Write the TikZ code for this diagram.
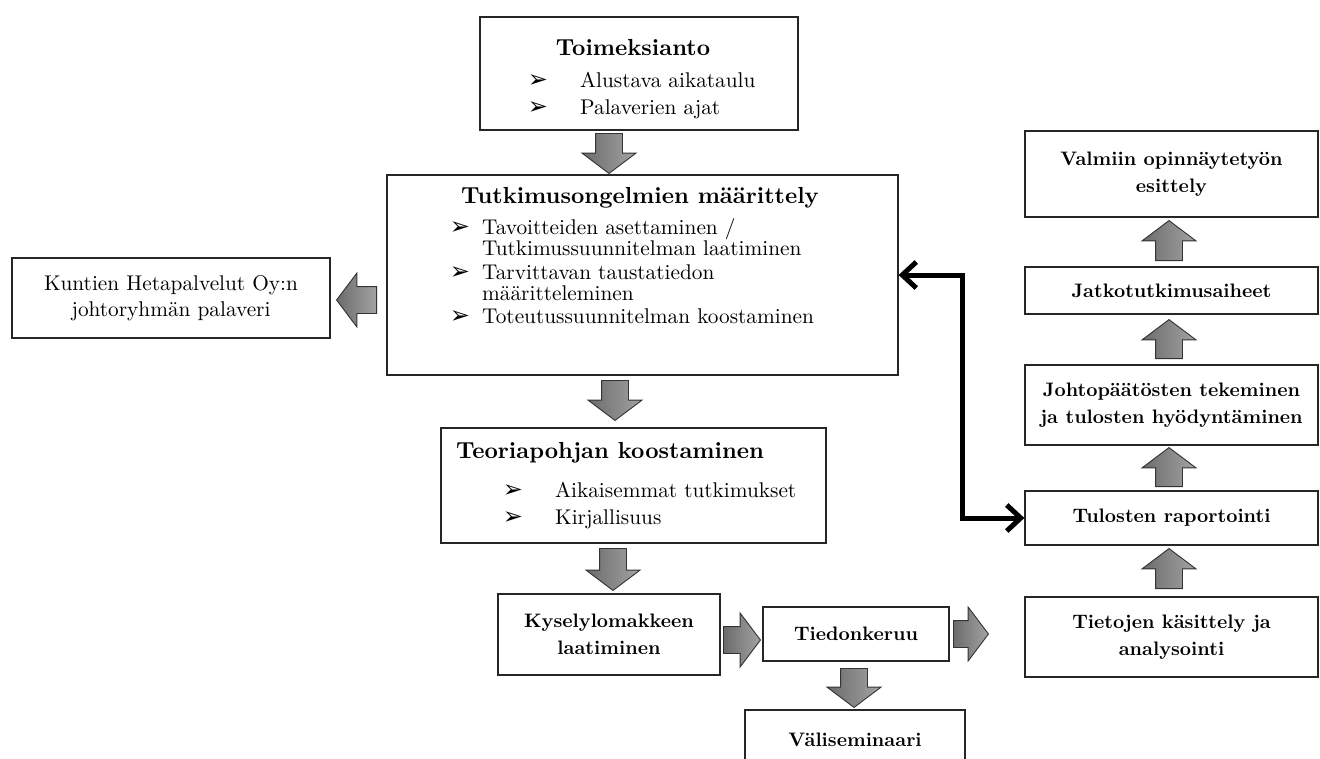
\documentclass[tikz,border=0pt]{standalone}
\usepackage{fontspec}
\setmainfont{lmroman10-regular}[Extension=.otf, BoldFont=lmroman10-bold, ItalicFont=lmroman10-italic]
\newfontfamily\dejavu{DejaVu Sans}
\usetikzlibrary{shapes.arrows,arrows.meta}
\begin{document}
\begin{tikzpicture}[x=1pt,y=-1pt,
  box/.style={draw=black!85,line width=1.2pt,fill=white,inner sep=0pt,align=center},
  ttl/.style={font=\fontsize{23.2}{26}\selectfont\bfseries,inner sep=0pt},
  itm/.style={font=\fontsize{21.3}{24}\selectfont,inner sep=0pt},
  lbl/.style={font=\fontsize{19.5}{27}\selectfont\bfseries},
  reg/.style={font=\fontsize{21.3}{26}\selectfont},
  bulsty/.style={font=\dejavu\fontsize{24}{24}\selectfont,inner sep=0pt},
  barrow/.style={single arrow, draw=black!80, line width=0.9pt,
    left color=black!58, right color=black!36,
    minimum width=53pt, single arrow head extend=13.5pt,
    single arrow tip angle=106, single arrow head indent=0pt,
    inner xsep=0pt, inner ysep=13pt, minimum height=#1, anchor=tail},
  vbarrow/.style={barrow=#1, inner xsep=13pt, inner ysep=0pt},
  link/.style={line width=5pt,{Straight Barb[length=14pt,width=26pt]}-{Straight Barb[length=14pt,width=26pt]}}
]
\fill[white] (0,0) rectangle (1320,758);
\useasboundingbox (0,0) rectangle (1320,758);

% boxes
\node[box,minimum width=318pt,minimum height=113pt] (toim) at (639,73.5) {};
\node[box,minimum width=511pt,minimum height=200pt] (tutk) at (642.5,275) {};
\node[box,reg,minimum width=318pt,minimum height=80pt] (kunt) at (171,298) {Kuntien Hetapalvelut Oy:n\\johtoryhmän palaveri};
\node[box,minimum width=385pt,minimum height=115pt] (teor) at (633.5,485.5) {};
\node[box,lbl,minimum width=222pt,minimum height=81pt] (kys) at (609,634.5) {Kyselylomakkeen\\laatiminen};
\node[box,lbl,minimum width=186pt,minimum height=54pt] (tied) at (856,634) {Tiedonkeruu};
\node[box,lbl,minimum width=293pt,minimum height=80pt] (tiet) at (1171.5,637) {Tietojen käsittely ja\\analysointi};
\node[box,lbl,minimum width=293pt,minimum height=86pt] (valm) at (1171.5,174) {Valmiin opinnäytetyön\\esittely};
\node[box,lbl,minimum width=293pt,minimum height=47pt] (jatko) at (1171.5,290.5) {Jatkotutkimusaiheet};
\node[box,lbl,minimum width=293pt,minimum height=80pt] (johto) at (1171.5,405) {Johtopäätösten tekeminen\\ja tulosten hyödyntäminen};
\node[box,lbl,minimum width=293pt,minimum height=54pt] (tulos) at (1171.5,518) {Tulosten raportointi};
\begin{scope}
\clip (0,0) rectangle (1320,758);
\node[box,minimum width=220pt,minimum height=60pt] (valis) at (855,740) {};
\end{scope}
\node[lbl,inner sep=0pt] (valisT) at (855,740) {Väliseminaari};

% texts in Toimeksianto
\node[ttl,anchor=base] (toimT) at (633,55) {Toimeksianto};
\node[bulsty,anchor=base] (tb1) at (538,87) {➢};
\node[itm,anchor=base west] (ti1) at (580,87) {Alustava aikataulu};
\node[bulsty,anchor=base] (tb2) at (538,114) {➢};
\node[itm,anchor=base west] (ti2) at (580,114) {Palaverien ajat};

% texts in Tutkimusongelmien
\node[ttl,anchor=base] (tutkT) at (640,203) {Tutkimusongelmien määrittely};
\node[bulsty,anchor=base] (ub1) at (460,234) {➢};
\node[itm,anchor=base west] (ui1) at (482,234) {Tavoitteiden asettaminen /};
\node[itm,anchor=base west] (ui1b) at (482,255) {Tutkimussuunnitelman laatiminen};
\node[bulsty,anchor=base] (ub2) at (460,279) {➢};
\node[itm,anchor=base west] (ui2) at (482,279) {Tarvittavan taustatiedon};
\node[itm,anchor=base west] (ui2b) at (482,300) {määritteleminen};
\node[bulsty,anchor=base] (ub3) at (460,323) {➢};
\node[itm,anchor=base west] (ui3) at (482,323) {Toteutussuunnitelman koostaminen};

% texts in Teoriapohjan
\node[ttl,anchor=base] (teorT) at (610,458) {Teoriapohjan koostaminen};
\node[bulsty,anchor=base] (eb1) at (513,497) {➢};
\node[itm,anchor=base west] (ei1) at (555,497) {Aikaisemmat tutkimukset};
\node[bulsty,anchor=base] (eb2) at (513,524) {➢};
\node[itm,anchor=base west] (ei2) at (555,524) {Kirjallisuus};

% block arrows
\node[vbarrow=40pt,shape border rotate=270] (a1) at (609,133) {};
\node[vbarrow=40pt,shape border rotate=270] (a2) at (615,380) {};
\node[vbarrow=42pt,shape border rotate=270] (a3) at (613,548) {};
\node[barrow=37pt] (a4) at (723,640) {};
\node[barrow=35pt] (a5) at (953,634) {};
\node[vbarrow=39pt,shape border rotate=270] (a6) at (854,668) {};
\node[barrow=40pt,shape border rotate=180] (a7) at (377,300) {};
\node[vbarrow=40pt,shape border rotate=90] (u1) at (1169,261) {};
\node[vbarrow=39pt,shape border rotate=90] (u2) at (1169,359) {};
\node[vbarrow=39pt,shape border rotate=90] (u3) at (1169,487) {};
\node[vbarrow=40pt,shape border rotate=90] (u4) at (1169,589) {};

% feedback link
\draw[link] (tutk.east) -- ++(64,0) |- (tulos.west);
\end{tikzpicture}
\end{document}
